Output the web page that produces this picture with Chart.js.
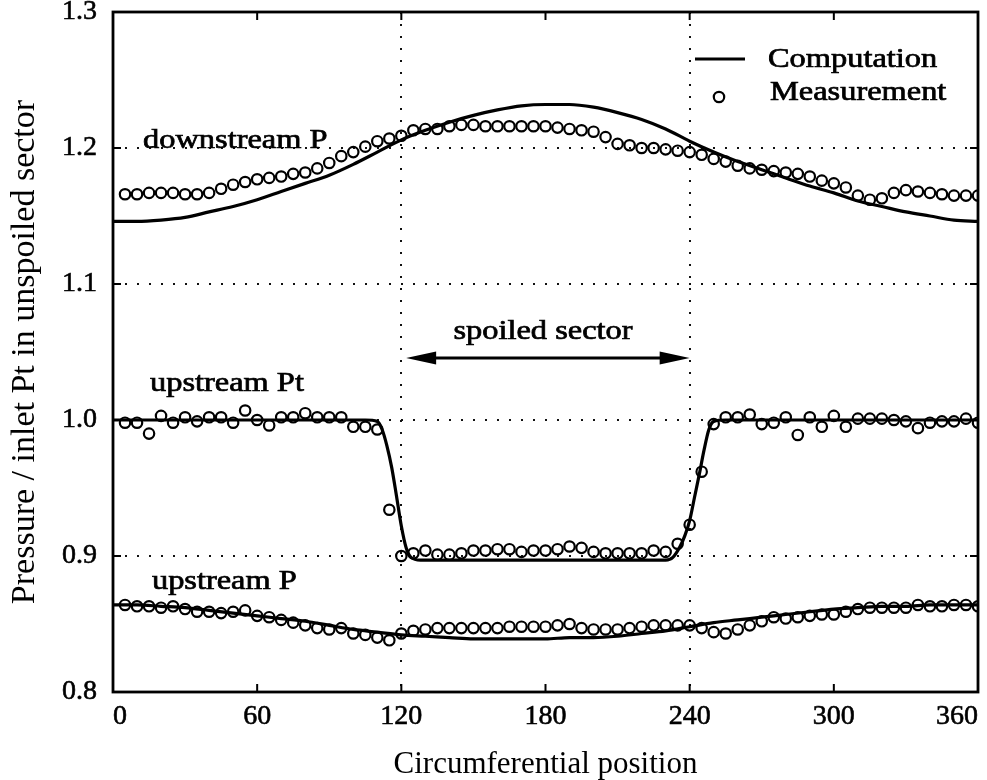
<!DOCTYPE html>
<html>
<head>
<meta charset="utf-8">
<script src="https://cdn.jsdelivr.net/npm/chart.js@4.4.1/dist/chart.umd.min.js"></script>
<style>
  html, body { margin: 0; padding: 0; background: #fff; }
  #wrap { width: 987px; height: 780px; }
</style>
</head>
<body>
<div id="wrap"><canvas id="chart"></canvas></div>
<script>
// measured points, every 5 degrees
const measAngles = [5, 10, 15, 20, 25, 30, 35, 40, 45, 50, 55, 60, 65, 70, 75, 80, 85, 90,
  95, 100, 105, 110, 115, 120, 125, 130, 135, 140, 145, 150, 155, 160, 165, 170, 175, 180,
  185, 190, 195, 200, 205, 210, 215, 220, 225, 230, 235, 240, 245, 250, 255, 260, 265, 270,
  275, 280, 285, 290, 295, 300, 305, 310, 315, 320, 325, 330, 335, 340, 345, 350, 355, 360];

const downstreamMeas = [1.166, 1.166, 1.167, 1.167, 1.167, 1.166, 1.166, 1.167, 1.170, 1.173, 1.175, 1.177, 1.178, 1.179, 1.181, 1.182, 1.185, 1.189,
  1.194, 1.197, 1.201, 1.205, 1.207, 1.209, 1.213, 1.214, 1.214, 1.216, 1.217, 1.217, 1.216, 1.216, 1.216, 1.216, 1.216, 1.216,
  1.215, 1.214, 1.213, 1.212, 1.208, 1.203, 1.202, 1.200, 1.200, 1.199, 1.198, 1.197, 1.195, 1.192, 1.190, 1.187, 1.185, 1.184,
  1.183, 1.182, 1.181, 1.179, 1.176, 1.174, 1.171, 1.165, 1.162, 1.163, 1.167, 1.169, 1.168, 1.167, 1.166, 1.165, 1.165, 1.165];

const upstreamPtMeas = [0.998, 0.998, 0.990, 1.003, 0.998, 1.002, 0.999, 1.002, 1.002, 0.998, 1.007, 1.000, 0.996, 1.002, 1.002, 1.005, 1.002, 1.002,
  1.002, 0.995, 0.995, 0.993, 0.934, 0.900, 0.902, 0.904, 0.901, 0.901, 0.902, 0.904, 0.904, 0.905, 0.905, 0.903, 0.904, 0.904,
  0.905, 0.907, 0.906, 0.903, 0.902, 0.902, 0.902, 0.902, 0.904, 0.903, 0.909, 0.923, 0.962, 0.997, 1.002, 1.002, 1.004, 0.997,
  0.998, 1.002, 0.989, 1.002, 0.995, 1.003, 0.995, 1.001, 1.001, 1.001, 1.000, 0.999, 0.994, 0.998, 0.999, 0.999, 1.001, 0.998];

const upstreamPMeas = [0.864, 0.863, 0.863, 0.862, 0.863, 0.861, 0.859, 0.859, 0.858, 0.859, 0.860, 0.856, 0.855, 0.853, 0.851, 0.849, 0.847, 0.846,
  0.847, 0.843, 0.842, 0.840, 0.838, 0.843, 0.845, 0.846, 0.847, 0.847, 0.847, 0.847, 0.847, 0.847, 0.848, 0.848, 0.848, 0.848,
  0.849, 0.850, 0.847, 0.846, 0.846, 0.846, 0.847, 0.848, 0.849, 0.849, 0.849, 0.849, 0.847, 0.844, 0.843, 0.846, 0.849, 0.852,
  0.855, 0.854, 0.855, 0.856, 0.857, 0.857, 0.859, 0.861, 0.862, 0.862, 0.862, 0.862, 0.864, 0.863, 0.863, 0.864, 0.864, 0.863];

// computed curves
const compAngles = [0, 10, 20, 30, 40, 50, 60, 70, 80, 90, 100, 110, 120, 130, 140, 150, 160, 170, 180,
  190, 200, 210, 220, 230, 240, 250, 260, 270, 280, 290, 300, 310, 320, 330, 340, 350, 360];

const downstreamComp = [1.146, 1.146, 1.147, 1.149, 1.153, 1.157, 1.162, 1.168, 1.174, 1.180, 1.188, 1.197, 1.206, 1.213, 1.219, 1.224, 1.228, 1.231, 1.232,
  1.232, 1.230, 1.226, 1.221, 1.214, 1.205, 1.197, 1.190, 1.184, 1.178, 1.172, 1.167, 1.161, 1.157, 1.153, 1.150, 1.147, 1.146];

const upstreamPComp = [0.864, 0.864, 0.863, 0.862, 0.860, 0.858, 0.856, 0.854, 0.852, 0.849, 0.846, 0.844, 0.842, 0.841, 0.840, 0.839, 0.839, 0.839, 0.839,
  0.840, 0.840, 0.841, 0.843, 0.845, 0.848, 0.851, 0.853, 0.855, 0.857, 0.859, 0.861, 0.862, 0.863, 0.863, 0.864, 0.864, 0.864];

const ptCompAngles = [0, 60, 105, 110, 112, 114, 116, 118, 120, 122, 124, 128, 180,
  230, 233, 236, 238, 240, 242, 244, 246, 248, 250, 255, 300, 360];
const upstreamPtComp = [1.0, 1.0, 1.0, 0.999, 0.993, 0.981, 0.965, 0.944, 0.922, 0.906, 0.899, 0.897, 0.897,
  0.897, 0.899, 0.907, 0.915, 0.926, 0.943, 0.960, 0.978, 0.993, 0.999, 1.0, 1.0, 1.0];

const xTicks = [0, 60, 120, 180, 240, 300, 360];
const yTicks = [0.8, 0.9, 1.0, 1.1, 1.2, 1.3];

const SERIF = "'Liberation Serif', 'Times New Roman', serif";

function pairs(xs, ys) {
  return xs.map((x, i) => ({ x: x, y: ys[i] }));
}

function lineSet(label, xs, ys) {
  return {
    label: label,
    data: pairs(xs, ys),
    borderColor: '#000',
    borderWidth: 3.2,
    pointRadius: 0,
    cubicInterpolationMode: 'monotone',
    fill: false
  };
}

function pointSet(label, xs, ys) {
  return {
    label: label,
    data: pairs(xs, ys),
    showLine: false,
    pointStyle: 'circle',
    pointRadius: 5.2,
    pointBorderWidth: 2.2,
    pointBorderColor: '#000',
    pointBackgroundColor: 'rgba(0,0,0,0)',
    borderColor: '#000'
  };
}

// text drawn a little wider and heavier, like the scanned figure
function wideText(ctx, text, x, y, size) {
  ctx.save();
  ctx.font = size + 'px ' + SERIF;
  ctx.textBaseline = 'alphabetic';
  ctx.textAlign = 'left';
  ctx.fillStyle = '#000';
  ctx.strokeStyle = '#000';
  ctx.lineWidth = 0.7;
  ctx.translate(x, y);
  ctx.scale(1.2, 1);
  ctx.fillText(text, 0, 0);
  ctx.strokeText(text, 0, 0);
  ctx.restore();
}

const notes = [
  { text: 'downstream P', x: 12.5, y: 1.200 },
  { text: 'upstream Pt', x: 15.4, y: 1.0215 },
  { text: 'upstream P', x: 16.2, y: 0.8755 },
  { text: 'spoiled sector', x: 141.7, y: 1.0595 }
];

const framePlugin = {
  id: 'frame',
  afterDraw(chart) {
    const ctx = chart.ctx;
    const a = chart.chartArea;
    const xs = chart.scales.x;
    const ys = chart.scales.y;
    ctx.save();
    ctx.strokeStyle = '#000';
    ctx.lineWidth = 2.8;
    ctx.strokeRect(a.left, a.top, a.right - a.left, a.bottom - a.top);
    ctx.lineWidth = 2;
    ctx.beginPath();
    xTicks.slice(1, -1).forEach(v => {
      const px = xs.getPixelForValue(v);
      ctx.moveTo(px, a.bottom); ctx.lineTo(px, a.bottom - 8);
      ctx.moveTo(px, a.top); ctx.lineTo(px, a.top + 8);
    });
    yTicks.slice(1, -1).forEach(v => {
      const py = ys.getPixelForValue(v);
      ctx.moveTo(a.left, py); ctx.lineTo(a.left + 8, py);
      ctx.moveTo(a.right, py); ctx.lineTo(a.right - 8, py);
    });
    ctx.stroke();

    // annotations
    notes.forEach(n => {
      wideText(ctx, n.text, xs.getPixelForValue(n.x), ys.getPixelForValue(n.y), 27);
    });

    // spoiled sector arrow
    const ay = ys.getPixelForValue(1.0456);
    const x1 = xs.getPixelForValue(122);
    const x2 = xs.getPixelForValue(240);
    ctx.lineWidth = 2.8;
    ctx.beginPath();
    ctx.moveTo(x1 + 20, ay); ctx.lineTo(x2 - 20, ay);
    ctx.stroke();
    ctx.fillStyle = '#000';
    ctx.beginPath();
    ctx.moveTo(x1, ay); ctx.lineTo(x1 + 30, ay - 6.5); ctx.lineTo(x1 + 30, ay + 6.5); ctx.closePath();
    ctx.moveTo(x2, ay); ctx.lineTo(x2 - 30, ay - 6.5); ctx.lineTo(x2 - 30, ay + 6.5); ctx.closePath();
    ctx.fill();

    // legend
    const lx = a.right - 283;
    ctx.lineWidth = 3.2;
    ctx.beginPath();
    ctx.moveTo(lx, a.top + 47); ctx.lineTo(lx + 50, a.top + 47);
    ctx.stroke();
    ctx.lineWidth = 2.2;
    ctx.beginPath();
    ctx.arc(lx + 24, a.top + 85, 5.2, 0, Math.PI * 2);
    ctx.stroke();
    wideText(ctx, 'Computation', a.right - 210, a.top + 55, 27);
    wideText(ctx, 'Measurement', a.right - 208, a.top + 88, 27);
    ctx.restore();
  }
};

function noEdgePadding(scale) {
  scale.paddingTop = 0;
  scale.paddingBottom = 0;
  scale.paddingLeft = 0;
  scale.paddingRight = 0;
}

function createChart() {
  const ctx = document.getElementById('chart').getContext('2d');
  new Chart(ctx, {
    type: 'line',
    data: {
      datasets: [
        pointSet('downstream P measurement', measAngles, downstreamMeas),
        pointSet('upstream Pt measurement', measAngles, upstreamPtMeas),
        pointSet('upstream P measurement', measAngles, upstreamPMeas),
        lineSet('downstream P computation', compAngles, downstreamComp),
        lineSet('upstream Pt computation', ptCompAngles, upstreamPtComp),
        lineSet('upstream P computation', compAngles, upstreamPComp)
      ]
    },
    options: {
      responsive: true,
      maintainAspectRatio: false,
      animation: false,
      layout: { padding: { left: 0, right: 9, top: 12, bottom: 0 }, autoPadding: false },
      plugins: {
        legend: { display: false },
        tooltip: { enabled: false }
      },
      scales: {
        x: {
          type: 'linear',
          min: 0,
          max: 360,
          afterFit(scale) { scale.height = 88; noEdgePadding(scale); },
          afterBuildTicks(scale) { scale.ticks = xTicks.map(v => ({ value: v })); },
          ticks: {
            align: 'inner',
            padding: 8,
            color: '#000',
            textStrokeColor: '#000',
            textStrokeWidth: 0.6,
            font: { family: SERIF, size: 28 },
            callback: v => String(v)
          },
          grid: {
            drawTicks: false,
            lineWidth: 2,
            color: c => (c.tick && (c.tick.value === 120 || c.tick.value === 240)) ? '#111' : 'rgba(0,0,0,0)'
          },
          border: { display: false, dash: [2, 10] },
          title: {
            display: true,
            text: 'Circumferential position',
            color: '#000',
            font: { family: SERIF, size: 31, lineHeight: 1.0 },
            padding: { top: 0, bottom: 0 }
          }
        },
        y: {
          type: 'linear',
          min: 0.8,
          max: 1.3,
          afterFit(scale) { scale.width = 113; noEdgePadding(scale); },
          afterBuildTicks(scale) { scale.ticks = yTicks.map(v => ({ value: v })); },
          ticks: {
            padding: 16,
            color: '#000',
            textStrokeColor: '#000',
            textStrokeWidth: 0.6,
            font: { family: SERIF, size: 28 },
            callback: v => Number(v).toFixed(1)
          },
          grid: {
            drawTicks: false,
            lineWidth: 2,
            color: c => (c.tick && c.tick.value > 0.85 && c.tick.value < 1.25) ? '#111' : 'rgba(0,0,0,0)'
          },
          border: { display: false, dash: [2, 10] },
          title: {
            display: true,
            text: 'Pressure / inlet Pt in unspoiled sector',
            color: '#000',
            font: { family: SERIF, size: 34 },
            padding: { top: 5, bottom: 0 }
          }
        }
      }
    },
    plugins: [framePlugin]
  });
}

document.addEventListener('DOMContentLoaded', createChart);
</script>
</body>
</html>
